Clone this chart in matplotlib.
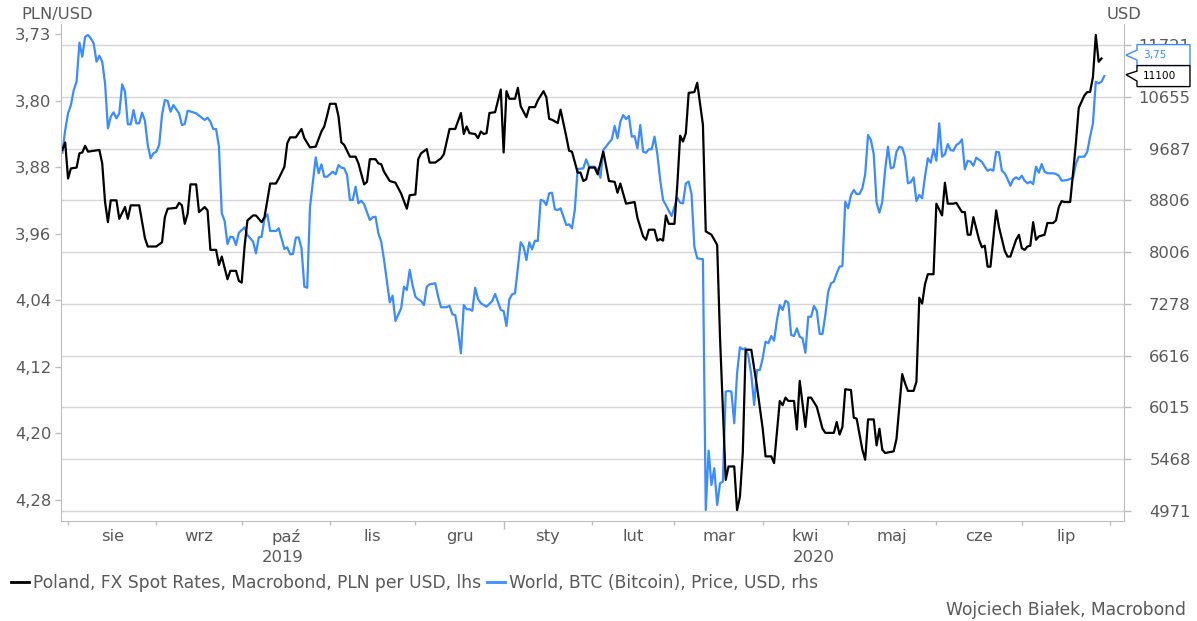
import matplotlib
matplotlib.use("Agg")
import matplotlib.pyplot as plt
import matplotlib.dates as mdates
from matplotlib.patches import Polygon
from matplotlib.ticker import FixedLocator, FixedFormatter, NullFormatter, NullLocator
from matplotlib.transforms import IdentityTransform
import pandas as pd

# day offsets are days since 1 Aug 2019
BASE = "2019-08-01"

PLN_DAY = [
    -2, -1, 0, 1, 3, 4, 5, 6, 7, 11, 12,
    13, 14, 15, 17, 18, 20, 21, 22, 25, 27, 28, 31, 33, 34, 35, 38, 39, 40, 41, 42, 43, 45, 46, 48, 49,
    50, 52, 53, 54, 56, 57, 59, 60, 61, 62, 63, 65, 66, 68, 69, 71, 73, 74, 76, 77, 78, 80, 82, 83, 85,
    87, 89, 90, 91, 92, 94, 95, 96, 97, 99, 101, 102, 104, 105, 106, 108, 109, 110, 111, 113, 115, 117, 119, 120, 122,
    123, 124, 126, 127, 129, 131, 132, 134, 136, 138, 139, 140, 141, 143, 144, 145, 146, 147, 148, 150, 152, 153, 154, 155, 157,
    158, 159, 161, 162, 164, 165, 167, 168, 169, 170, 172, 173, 175, 176, 177, 179, 180, 181, 182, 183, 185, 186, 188, 190, 192,
    193, 194, 196, 199, 200, 202, 203, 204, 206, 207, 208, 209, 210, 211, 213, 214, 215, 216, 217, 218, 220, 221, 223, 224, 226,
    228, 229, 231, 232, 234, 235, 236, 237, 238, 240, 242, 244, 245, 247, 248, 250, 251, 252, 253, 255, 256, 257, 259, 260, 261,
    263, 265, 266, 269, 270, 271, 272, 273, 275, 276, 277, 279, 280, 281, 283, 284, 285, 286, 287, 290, 291, 293, 294, 295, 297,
    298, 299, 300, 301, 302, 304, 305, 307, 308, 309, 311, 312, 314, 315, 316, 317, 318, 320, 321, 322, 323, 324, 325, 326, 327,
    329, 330, 331, 333, 334, 335, 336, 337, 338, 339, 340, 341, 343, 344, 346, 347, 348, 349, 350, 352, 353, 354, 355, 357, 358,
    359, 360, 361, 362, 363,
]
PLN_USD = [
    3.863, 3.854, 3.897, 3.885, 3.884, 3.867, 3.866, 3.858, 3.865, 3.863, 3.879,
    3.925, 3.949, 3.923, 3.923, 3.945, 3.931, 3.945, 3.929, 3.929, 3.968, 3.978, 3.978, 3.973, 3.943, 3.933, 3.932, 3.926, 3.929, 3.951, 3.939, 3.904, 3.904, 3.937, 3.931, 3.935,
    3.982, 3.982, 4.000, 3.990, 4.017, 4.007, 4.007, 4.019, 4.021, 3.978, 3.947, 3.941, 3.941, 3.949, 3.943, 3.903, 3.903, 3.897, 3.883, 3.855, 3.848, 3.848, 3.838, 3.849, 3.860,
    3.859, 3.841, 3.835, 3.822, 3.808, 3.808, 3.823, 3.854, 3.857, 3.871, 3.871, 3.879, 3.904, 3.901, 3.874, 3.874, 3.879, 3.880, 3.889, 3.900, 3.902, 3.915, 3.933, 3.917, 3.916,
    3.874, 3.867, 3.862, 3.878, 3.878, 3.873, 3.868, 3.838, 3.838, 3.819, 3.844, 3.835, 3.843, 3.844, 3.849, 3.841, 3.844, 3.843, 3.819, 3.818, 3.791, 3.866, 3.793, 3.802, 3.802,
    3.789, 3.811, 3.824, 3.812, 3.812, 3.804, 3.793, 3.800, 3.826, 3.827, 3.831, 3.815, 3.847, 3.864, 3.865, 3.890, 3.890, 3.900, 3.898, 3.884, 3.884, 3.892, 3.865, 3.900, 3.901,
    3.914, 3.903, 3.927, 3.925, 3.944, 3.966, 3.970, 3.958, 3.958, 3.971, 3.969, 3.971, 3.941, 3.951, 3.951, 3.905, 3.846, 3.853, 3.843, 3.795, 3.794, 3.783, 3.833, 3.960, 3.964,
    3.976, 4.086, 4.256, 4.240, 4.240, 4.292, 4.276, 4.224, 4.101, 4.101, 4.145, 4.195, 4.228, 4.228, 4.236, 4.162, 4.167, 4.158, 4.162, 4.162, 4.196, 4.138, 4.193, 4.158, 4.158,
    4.169, 4.195, 4.200, 4.200, 4.187, 4.202, 4.193, 4.148, 4.149, 4.182, 4.183, 4.220, 4.232, 4.184, 4.184, 4.215, 4.195, 4.220, 4.224, 4.222, 4.207, 4.130, 4.141, 4.150, 4.150,
    4.139, 4.039, 4.046, 4.023, 4.011, 4.011, 3.927, 3.941, 3.902, 3.927, 3.927, 3.926, 3.937, 3.937, 3.964, 3.964, 3.943, 3.970, 3.979, 3.977, 4.002, 4.002, 3.968, 3.935, 3.955,
    3.983, 3.990, 3.990, 3.970, 3.964, 3.980, 3.982, 3.978, 3.977, 3.949, 3.970, 3.966, 3.964, 3.950, 3.950, 3.947, 3.931, 3.924, 3.925, 3.925,
    3.891, 3.855, 3.813, 3.798, 3.794, 3.794, 3.776, 3.726, 3.758, 3.754,
]

BTC_DAY = [
    -2, -1, 0, 1, 2, 3, 4, 5, 6, 7, 8, 9, 10, 11, 12, 13, 14, 15, 16, 17,
    18, 19, 20, 21, 22, 23, 24, 25, 26, 27, 28, 29, 30, 31, 32, 33, 34, 35, 36, 37,
    39, 40, 41, 42, 44, 45, 47, 48, 49, 50, 51, 52, 53, 54, 55, 56, 57, 58, 59, 60,
    62, 63, 65, 66, 67, 68, 69, 70, 71, 73, 74, 76, 77, 78, 79, 80, 81, 82, 83, 84,
    85, 87, 88, 89, 90, 91, 93, 94, 95, 96, 97, 98, 99, 100, 101, 102, 103, 104, 106, 107,
    108, 109, 110, 111, 113, 114, 115, 117, 118, 119, 120, 121, 122, 123, 124, 125, 126, 127, 129, 130,
    131, 133, 134, 135, 136, 137, 138, 139, 140, 141, 142, 143, 144, 145, 147, 149, 150, 151, 152, 153,
    154, 155, 156, 157, 159, 160, 161, 162, 163, 164, 165, 166, 167, 168, 169, 170, 171, 172, 173, 175,
    176, 177, 178, 179, 181, 182, 183, 185, 186, 187, 188, 190, 191, 192, 193, 194, 195, 196, 197, 198,
    199, 200, 201, 202, 203, 204, 205, 206, 207, 208, 209, 210, 211, 212, 214, 215, 216, 217, 218, 219,
    220, 221, 223, 224, 225, 226, 227, 228, 229, 230, 231, 232, 233, 234, 235, 236, 237, 238, 239, 240,
    241, 242, 243, 244, 245, 246, 247, 248, 249, 250, 251, 252, 253, 254, 255, 256, 257, 258, 259, 260,
    261, 262, 263, 264, 265, 266, 267, 268, 269, 270, 271, 272, 273, 274, 275, 276, 277, 278, 279, 280,
    281, 282, 283, 284, 285, 286, 287, 288, 289, 290, 291, 292, 293, 294, 295, 296, 297, 298, 299, 300,
    301, 302, 303, 304, 305, 306, 307, 308, 309, 310, 311, 312, 313, 314, 315, 316, 317, 318, 319, 321,
    322, 323, 324, 325, 326, 327, 328, 329, 330, 331, 332, 333, 334, 335, 336, 337, 338, 339, 340, 341,
    342, 343, 344, 346, 347, 348, 349, 351, 353, 354, 355, 357, 358, 359, 360, 361, 362, 363, 364,
]
BTC_USD = [
    9613, 10023, 10336, 10495, 10789, 10955, 11771, 11471, 11901, 11939,
    11866, 11758, 11366, 11492, 11366, 10923, 10055, 10272, 10355, 10242,
    10336, 10903, 10756, 10129, 10129, 10399, 10148, 10148, 10348, 10197,
    9751, 9515, 9603, 9631, 9751, 10304, 10593, 10573, 10367, 10495,
    10336, 10116, 10135, 10386, 10355, 10336, 10253, 10210, 10253, 10178,
    10042, 10042, 9720, 8599, 8478, 8126, 8236, 8227, 8111, 8297,
    8380, 8262, 8161, 7988, 8227, 8236, 8520, 8583, 8323, 8323,
    8365, 8052, 8077, 7974, 7978, 8221, 8227, 8062, 7512, 7498,
    8704, 9532, 9256, 9410, 9198, 9198, 9283, 9239, 9398, 9352,
    9341, 9227, 8812, 8812, 9030, 8758, 8800, 8742, 8493, 8536,
    8545, 8288, 8161, 7890, 7299, 7389, 7052, 7219, 7512, 7467,
    7747, 7536, 7375, 7340, 7317, 7263, 7512, 7545, 7559, 7375,
    7233, 7233, 7254, 7140, 7131, 6915, 6645, 7263, 7206, 7206,
    7187, 7498, 7344, 7286, 7241, 7317, 7412, 7307, 7197, 7183,
    6988, 7340, 7408, 7421, 8152, 8086, 7890, 8152, 8047, 8176,
    8171, 8812, 8800, 8731, 8921, 8931, 8662, 8651, 8678, 8415,
    8426, 8365, 8651, 9329, 9341, 9497, 9369, 9369, 9312, 9181,
    9661, 9792, 9853, 10098, 9872, 10178, 10304, 10228, 10285, 9901,
    9913, 9691, 10116, 9631, 9613, 9674, 9674, 9901, 9585, 9142,
    8812, 8731, 8640, 8556, 8849, 8768, 8758, 9087, 9114, 8910,
    8086, 7915, 7901, 4980, 5555, 5215, 5378, 5026, 5231, 5247,
    6192, 6200, 6192, 5842, 6405, 6719, 6695, 6707, 6604, 6385,
    6042, 6444, 6444, 6585, 6789, 6769, 6860, 6801, 7065, 7263,
    7197, 7321, 7294, 6873, 6860, 6958, 6852, 6831, 6653, 7108,
    7108, 7250, 7187, 6886, 6886, 7131, 7443, 7559, 7582, 7700,
    7794, 7804, 8784, 8678, 8893, 8975, 8910, 8910, 9004, 9239,
    9932, 9841, 9590, 8768, 8608, 8784, 9312, 9720, 9341, 9358,
    9631, 9720, 9702, 9543, 9087, 9104, 9188, 8796, 8893, 8839,
    9198, 9515, 9438, 9674, 9473, 10148, 9543, 9585, 9768, 9661,
    9649, 9751, 9781, 9853, 9324, 9473, 9455, 9386, 9525, 9455,
    9369, 9300, 9324, 9300, 9631, 9620, 9300, 9256, 9159, 9047,
    9154, 9188, 9154, 9215, 9130, 9087, 9114, 9075, 9369, 9266,
    9415, 9283, 9256, 9256, 9244, 9215, 9130, 9142, 9181, 9415,
    9543, 9543, 9631, 9901, 10148, 10955, 10923, 10955, 11071,
]

PLN_TICKS = [3.725, 3.8043, 3.8836, 3.9629, 4.0421, 4.1214, 4.2007, 4.28]
PLN_TICK_LABELS = ["3,73", "3,80", "3,88", "3,96", "4,04", "4,12", "4,20", "4,28"]
BTC_TICKS = [4971, 5468, 6015, 6616, 7278, 8006, 8806, 9687, 10655, 11721]
MONTHS_PL = ["sty", "lut", "mar", "kwi", "maj", "cze", "lip", "sie", "wrz", "paź", "lis", "gru"]
# last-value tags as shown on the right edge: (text, value, axis, colour)
TAGS = [("3,75", 3.75, "pln", "#3a8cff"), ("11100", 11100, "btc", "black")]

LEGEND = ["Poland, FX Spot Rates, Macrobond, PLN per USD, lhs",
          "World, BTC (Bitcoin), Price, USD, rhs"]
SOURCE = "Wojciech Białek, Macrobond"

TXT = "#595959"
SPINE = "#bdbdbd"
GRID = "#d6d6d6"
BLUE = "#3a8cff"
FS = 11.8

plt.rcParams["font.family"] = ["DejaVu Sans"]

base = pd.Timestamp(BASE)
pln_dates = base + pd.to_timedelta(PLN_DAY, unit="D")
btc_dates = base + pd.to_timedelta(BTC_DAY, unit="D")
x0 = base - pd.Timedelta(days=2.46)
x1 = base + pd.Timedelta(days=370.9)

fig = plt.figure(figsize=(11.97, 6.21), dpi=100)
ax = fig.add_axes([0.051, 0.161, 0.888, 0.8003])
ax2 = ax.twinx()
ax.set_zorder(ax2.get_zorder() + 1)
ax.patch.set_visible(False)

ax2.plot(btc_dates, BTC_USD, color=BLUE, lw=1.6)
ax.plot(pln_dates, PLN_USD, color="black", lw=1.6)

ax.set_xlim(x0, x1)
ax.set_ylim(4.305, 3.713)
ax2.set_yscale("log")
ax2.set_ylim(4880, 12183)

# right axis: log scale, grid follows its ticks
ax2.yaxis.set_major_locator(FixedLocator(BTC_TICKS))
ax2.yaxis.set_major_formatter(FixedFormatter([str(t) for t in BTC_TICKS]))
ax2.yaxis.set_minor_locator(NullLocator())
ax2.tick_params(axis="y", direction="out", length=5, width=1, color=SPINE,
                labelcolor=TXT, labelsize=FS, pad=43)
for lbl in ax2.get_yticklabels():
    lbl.set_horizontalalignment("right")
ax2.yaxis.grid(True, color=GRID, lw=1)
ax2.set_axisbelow(True)

ax.yaxis.set_major_locator(FixedLocator(PLN_TICKS))
ax.yaxis.set_major_formatter(FixedFormatter(PLN_TICK_LABELS))
ax.tick_params(axis="y", direction="out", length=4.5, width=1, color=SPINE,
               labelcolor=TXT, labelsize=FS, pad=2.5)

for a in (ax, ax2):
    for side in a.spines:
        a.spines[side].set_color(SPINE)
    a.spines["top"].set_visible(False)
ax.spines["right"].set_visible(False)
ax2.spines["left"].set_visible(False)
ax2.spines["bottom"].set_visible(False)

# months: ticks at month starts, labels in the middle of each month
starts = pd.date_range("2019-08-01", "2020-08-01", freq="MS")
mids = [s + (e - s) / 2 for s, e in zip(starts[:-1], starts[1:])]
ax.xaxis.set_major_locator(FixedLocator(mdates.date2num(starts)))
ax.xaxis.set_major_formatter(NullFormatter())
ax.xaxis.set_minor_locator(FixedLocator(mdates.date2num(mids)))
ax.xaxis.set_minor_formatter(FixedFormatter([MONTHS_PL[m.month - 1] for m in mids]))
ax.tick_params(axis="x", which="major", direction="out", length=3, width=1, color=SPINE)
ax.tick_params(axis="x", which="minor", length=0, pad=6, labelsize=FS, labelcolor=TXT)
for tick, s in zip(ax.xaxis.get_major_ticks(), starts):
    if s.month == 1:
        tick.tick1line.set_markersize(6)

for year in (2019, 2020):
    lo = max(x0, pd.Timestamp(f"{year}-01-01"))
    hi = min(x1, pd.Timestamp(f"{year + 1}-01-01"))
    ax.text(lo + (hi - lo) / 2, -0.073, str(year), transform=ax.get_xaxis_transform(),
            ha="center", va="center", fontsize=FS, color=TXT)

fig.text(0.048, 0.977, "PLN/USD", ha="center", va="center", fontsize=FS, color=TXT)
fig.text(0.939, 0.977, "USD", ha="center", va="center", fontsize=FS, color=TXT)

handles = [plt.Line2D([], [], color="black", lw=2), plt.Line2D([], [], color=BLUE, lw=2)]
fig.legend(handles, LEGEND, loc="center left", bbox_to_anchor=(0.009, 0.061), ncol=2,
           frameon=False, fontsize=12.3, labelcolor=TXT, handlelength=1.05,
           handletextpad=0.25, columnspacing=0.35, borderpad=0, borderaxespad=0)
fig.text(0.991, 0.0177, SOURCE, ha="right", va="center", fontsize=12.3, color=TXT)

# last-value tags with a small pointer, drawn in pixel space next to the right spine
x_tip = ax.transAxes.transform((1, 0))[0] + 2
prev_mid = None
for text, value, which, colour in TAGS:
    tr = ax.transData if which == "pln" else ax2.transData
    y_tip = tr.transform((mdates.date2num(x0), value))[1]
    y_mid = y_tip if prev_mid is None else min(y_tip, prev_mid - 21)
    prev_mid = y_mid
    xb = x_tip + 11
    pts = [(x_tip, y_tip), (xb, y_mid + 5), (xb, y_mid + 10.5), (xb + 53, y_mid + 10.5),
           (xb + 53, y_mid - 10.5), (xb, y_mid - 10.5), (xb, y_mid - 5)]
    fig.add_artist(Polygon(pts, closed=True, transform=IdentityTransform(),
                           facecolor="white", edgecolor=colour, lw=1, zorder=5))
    fig.text(xb + 6, y_mid, text, transform=IdentityTransform(), ha="left", va="center",
             fontsize=7.6, color=colour, zorder=6)

fig.savefig("out.png", dpi=100)
